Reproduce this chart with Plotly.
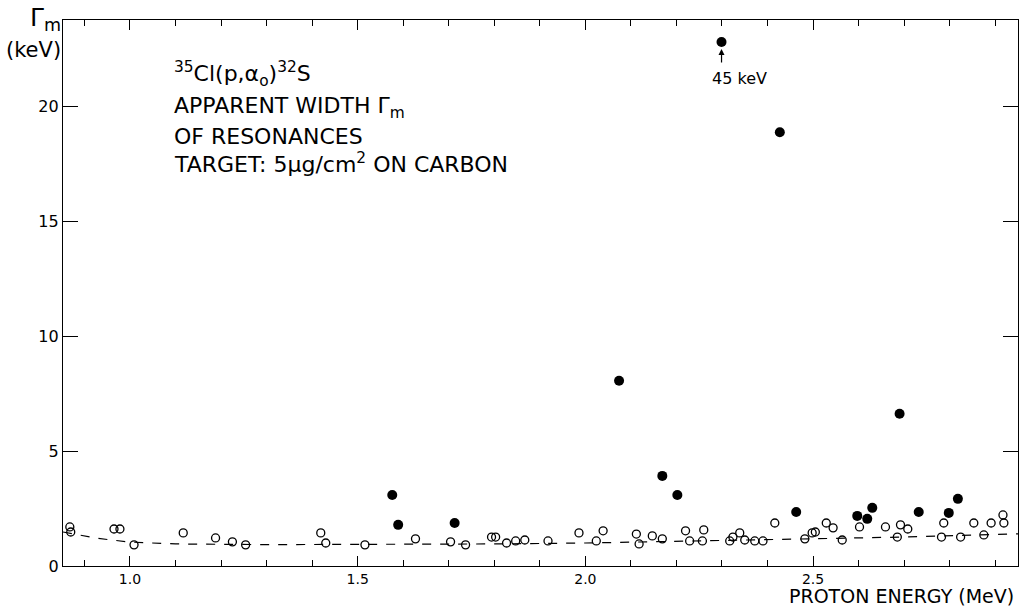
import plotly.graph_objects as go

# 35Cl(p,a0)32S apparent resonance widths
# broad resonances (filled dots)
broad_e = [1.576, 1.589, 1.713, 2.074, 2.169, 2.202, 2.299, 2.427, 2.463,
           2.597, 2.619, 2.630, 2.690, 2.732, 2.798, 2.818]
broad_g = [3.09, 1.79, 1.87, 8.06, 3.92, 3.09, 22.79, 18.87, 2.35,
           2.18, 2.05, 2.53, 6.62, 2.35, 2.31, 2.92]

# narrow resonances (open circles)
narrow_e = [0.868, 0.870, 0.965, 0.978, 1.009, 1.117, 1.188, 1.225, 1.254,
            1.419, 1.430, 1.516, 1.627, 1.704, 1.737, 1.794, 1.803, 1.827,
            1.847, 1.867, 1.918, 1.986, 2.024, 2.039, 2.112, 2.118, 2.147,
            2.169, 2.220, 2.229, 2.260, 2.257, 2.317, 2.324, 2.339, 2.350,
            2.372, 2.390, 2.416, 2.482, 2.498, 2.505, 2.529, 2.544, 2.564,
            2.602, 2.659, 2.685, 2.692, 2.708, 2.787, 2.782, 2.824, 2.853,
            2.875, 2.891, 2.917, 2.919]
narrow_g = [1.70, 1.48, 1.61, 1.61, 0.92, 1.44, 1.22, 1.05, 0.92,
            1.44, 1.00, 0.92, 1.18, 1.05, 0.92, 1.26, 1.26, 1.00,
            1.09, 1.13, 1.09, 1.44, 1.09, 1.53, 1.39, 0.96, 1.31,
            1.18, 1.53, 1.09, 1.57, 1.09, 1.09, 1.26, 1.44, 1.13,
            1.09, 1.09, 1.87, 1.18, 1.44, 1.48, 1.87, 1.66, 1.13,
            1.70, 1.70, 1.26, 1.79, 1.61, 1.87, 1.26, 1.26, 1.87,
            1.35, 1.87, 2.22, 1.87]

# target-thickness baseline (dashed curve)
curve_e = [0.853, 0.93, 1.0, 1.1, 1.3, 1.5, 1.8, 2.0, 2.3, 2.5, 2.7, 2.95]
curve_g = [1.48, 1.20, 1.04, 0.96, 0.93, 0.93, 0.96, 1.0, 1.10, 1.17, 1.26, 1.40]

x_ticks = [1.0, 1.5, 2.0, 2.5]
y_ticks = [0, 5, 10, 15, 20]

FONT = "DejaVu Sans"

fig = go.Figure()
fig.add_trace(go.Scatter(x=curve_e, y=curve_g, mode="lines",
                         line=dict(color="black", width=1.2, dash="dash"),
                         hoverinfo="skip"))
fig.add_trace(go.Scatter(x=narrow_e, y=narrow_g, mode="markers",
                         marker=dict(symbol="circle-open", size=8, color="black",
                                     line=dict(width=1.3))))
fig.add_trace(go.Scatter(x=broad_e, y=broad_g, mode="markers",
                         marker=dict(symbol="circle", size=10, color="black")))

# text block, top left
lines = ["<sup>35</sup>Cl(p,α<sub>o</sub>)<sup>32</sup>S",
         "APPARENT WIDTH Γ<sub>m</sub>",
         "OF RESONANCES",
         "TARGET: 5μg/cm<sup>2</sup> ON CARBON"]
ys = [74, 108, 136, 163]
for txt, yp in zip(lines, ys):
    fig.add_annotation(text=txt, xref="paper", yref="paper",
                       x=(172 - 63) / 955, y=(566 - yp) / 546,
                       xanchor="left", yanchor="middle", showarrow=False,
                       font=dict(family=FONT, size=22, color="black"))

# 45 keV marker (point is off scale)
fig.add_annotation(x=2.299, y=22.79, ax=0, ay=22, text="", showarrow=True,
                   arrowhead=2, arrowsize=1, arrowwidth=1.2, standoff=7,
                   arrowcolor="black")
fig.add_annotation(x=2.299, y=22.79, text="45 keV", showarrow=False,
                   xshift=18, yshift=-36,
                   font=dict(family=FONT, size=16, color="black"))

# axis titles
fig.add_annotation(text="Γ<sub>m</sub>", xref="paper", yref="paper",
                   x=(63 - 63) / 955, y=(566 - 1) / 546, showarrow=False,
                   xanchor="right", yanchor="top",
                   font=dict(family=FONT, size=25, color="black"))
fig.add_annotation(text="(keV)", xref="paper", yref="paper",
                   x=(33 - 63) / 955, y=(566 - 50) / 546, showarrow=False,
                   xanchor="center", yanchor="middle",
                   font=dict(family=FONT, size=21, color="black"))
fig.add_annotation(text="PROTON ENERGY (MeV)", xref="paper", yref="paper",
                   x=(1016 - 63) / 955, y=-(609 - 566) / 546, showarrow=False,
                   xanchor="right", yanchor="bottom",
                   font=dict(family=FONT, size=19, color="black"))

fig.update_xaxes(range=[0.853, 2.950], tickvals=x_ticks, tickformat=".1f",
                 ticks="inside", ticklen=10, tickwidth=1.2, tickcolor="black",
                 minor=dict(dtick=0.1, tick0=0.8, ticks="inside", ticklen=6,
                            tickcolor="black", tickwidth=1.2),
                 showline=True, linecolor="black", linewidth=1.3, mirror="ticks",
                 showgrid=False, zeroline=False,
                 tickfont=dict(family=FONT, size=14, color="black"))
fig.update_yaxes(range=[0, 23.75], tickvals=y_ticks,
                 ticks="inside", ticklen=15, tickwidth=1.2, tickcolor="black",
                 showline=True, linecolor="black", linewidth=1.3, mirror="ticks",
                 showgrid=False, zeroline=False,
                 tickfont=dict(family=FONT, size=16, color="black"))

fig.update_layout(width=1028, height=610, showlegend=False,
                  margin=dict(l=63, r=10, t=20, b=44),
                  plot_bgcolor="white", paper_bgcolor="white")

# drop the default page margin so the figure sits at the window corner
fig.write_html("out.html", config={"displayModeBar": False},
               post_script="document.body.style.margin='0';")
